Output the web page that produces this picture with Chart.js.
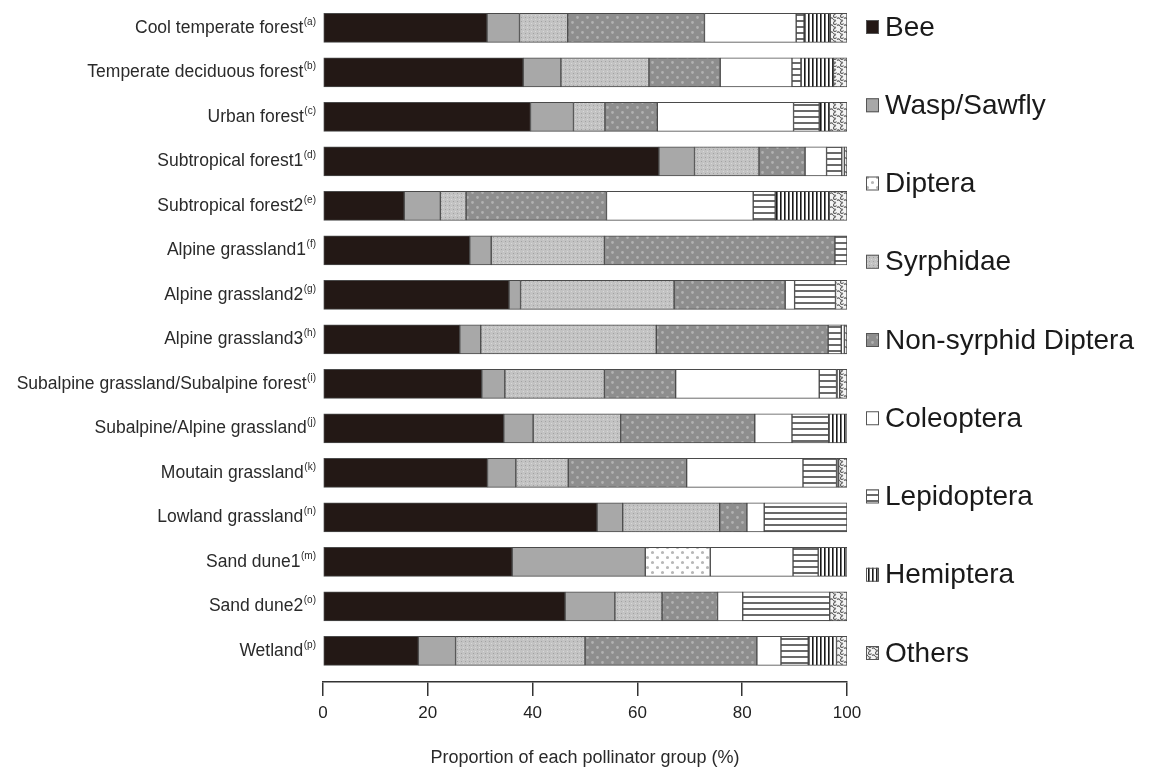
<!DOCTYPE html>
<html>
<head>
<meta charset="utf-8">
<script src="https://cdn.jsdelivr.net/npm/chart.js@4.4.1/dist/chart.umd.min.js"></script>
<style>
  html, body { margin: 0; padding: 0; background: #fff; }
  #wrap { width: 1152px; height: 769px; }
</style>
</head>
<body>
<div id="wrap"><canvas id="chart"></canvas></div>
<script>
// Habitats (top to bottom) and their reference letters
const habitats = [
    'Cool temperate forest', 'Temperate deciduous forest', 'Urban forest',
    'Subtropical forest1', 'Subtropical forest2', 'Alpine grassland1',
    'Alpine grassland2', 'Alpine grassland3', 'Subalpine grassland/Subalpine forest',
    'Subalpine/Alpine grassland', 'Moutain grassland', 'Lowland grassland',
    'Sand dune1', 'Sand dune2', 'Wetland'
];
const refs = ['a', 'b', 'c', 'd', 'e', 'f', 'g', 'h', 'i', 'j', 'k', 'n', 'm', 'o', 'p'];

// Proportion (%) of each pollinator group, one value per habitat
const bee        = [31.3, 38.2, 39.6, 64.1, 15.5, 28.0, 35.5, 26.1, 30.3, 34.5, 31.4, 52.3, 36.1, 46.2, 18.2];
const wasp       = [6.2, 7.2, 8.2, 6.8, 6.9, 4.1, 2.2, 4.0, 4.4, 5.6, 5.4, 4.9, 25.4, 9.5, 7.1];
const diptera    = [0, 0, 0, 0, 0, 0, 0, 0, 0, 0, 0, 0, 12.4, 0, 0];
const syrphidae  = [9.2, 16.8, 6.0, 12.3, 4.9, 21.6, 29.3, 33.5, 19.0, 16.7, 10.0, 18.5, 0, 9.0, 24.7];
const nonSyrphid = [26.1, 13.6, 10.0, 8.8, 26.8, 44.0, 21.2, 32.8, 13.6, 25.6, 22.6, 5.2, 0, 10.6, 32.8];
const coleoptera = [17.5, 13.7, 26.0, 4.1, 28.0, 0, 1.8, 0, 27.4, 7.1, 22.2, 3.3, 15.8, 4.8, 4.6];
const lepidoptera = [1.5, 1.7, 4.9, 2.9, 4.2, 2.3, 7.8, 2.5, 3.3, 7.0, 6.4, 15.8, 4.8, 16.6, 5.2];
const hemiptera  = [5.0, 6.2, 1.9, 0.5, 10.3, 0, 0, 0.6, 0.6, 3.5, 0.4, 0, 5.5, 0, 5.4];
const others     = [3.2, 2.6, 3.4, 0.5, 3.4, 0, 2.2, 0.5, 1.4, 0, 1.6, 0, 0, 3.3, 2.0];

const xTicks = [0, 20, 40, 60, 80, 100];

const FONT = '"Liberation Sans", Arial, Helvetica, sans-serif';
const canvas = document.getElementById('chart');
const mainCtx = canvas.getContext('2d');

// Build a repeating fill pattern from a small tile
function tile(w, h, paint) {
    const c = document.createElement('canvas');
    c.width = w;
    c.height = h;
    const g = c.getContext('2d');
    paint(g, w, h);
    return mainCtx.createPattern(c, 'repeat');
}

function dots(bg, fg, size, r) {
    return tile(size, size, (g, w, h) => {
        g.fillStyle = bg;
        g.fillRect(0, 0, w, h);
        g.fillStyle = fg;
        g.beginPath();
        g.arc(w * 0.25, h * 0.25, r, 0, Math.PI * 2);
        g.arc(w * 0.75, h * 0.75, r, 0, Math.PI * 2);
        g.fill();
    });
}

const fills = {
    bee: '#231815',
    wasp: '#a8a8a8',
    diptera: dots('#ffffff', '#b8b8b8', 10, 1.6),
    syrphidae: tile(4, 4, (g) => {
        g.fillStyle = '#c3c3c3';
        g.fillRect(0, 0, 4, 4);
        g.fillStyle = '#a2a2a2';
        g.fillRect(1, 1, 1, 1);
        g.fillStyle = '#d8d8d8';
        g.fillRect(3, 3, 1, 1);
    }),
    nonSyrphid: dots('#8e8e8e', '#b2b2b2', 10, 1.4),
    coleoptera: '#ffffff',
    lepidoptera: tile(6, 6, (g) => {
        g.fillStyle = '#ffffff';
        g.fillRect(0, 0, 6, 6);
        g.fillStyle = '#6a6a6a';
        g.fillRect(0, 2, 6, 2);
    }),
    hemiptera: tile(4, 4, (g) => {
        g.fillStyle = '#ffffff';
        g.fillRect(0, 0, 4, 4);
        g.fillStyle = '#1a1a1a';
        g.fillRect(0, 0, 1.6, 4);
    }),
    others: tile(7, 7, (g) => {
        g.fillStyle = '#f4f4f4';
        g.fillRect(0, 0, 7, 7);
        g.strokeStyle = '#5c5c5c';
        g.lineWidth = 1.1;
        g.beginPath();
        g.arc(2, 2, 1.5, 0.3, Math.PI * 1.6);
        g.stroke();
        g.beginPath();
        g.moveTo(4, 4.5);
        g.quadraticCurveTo(5.5, 3, 7, 5);
        g.moveTo(0, 5);
        g.quadraticCurveTo(1.5, 7, 3, 6);
        g.stroke();
    })
};

const series = [
    ['Bee', bee, fills.bee],
    ['Wasp/Sawfly', wasp, fills.wasp],
    ['Diptera', diptera, fills.diptera],
    ['Syrphidae', syrphidae, fills.syrphidae],
    ['Non-syrphid Diptera', nonSyrphid, fills.nonSyrphid],
    ['Coleoptera', coleoptera, fills.coleoptera],
    ['Lepidoptera', lepidoptera, fills.lepidoptera],
    ['Hemiptera', hemiptera, fills.hemiptera],
    ['Others', others, fills.others]
];

const datasets = series.map(([label, values, fill]) => ({
    label: label,
    data: values.map((v, i) => ({ x: v, y: i })),
    backgroundColor: fill,
    borderColor: '#4a4a4a',
    borderWidth: 1,
    borderSkipped: false,
    barThickness: 29
}));

// Habitat names with superscript reference letters, drawn left of the bars
const habitatLabels = {
    id: 'habitatLabels',
    afterDraw(chart) {
        const ctx = chart.ctx;
        const yScale = chart.scales.y;
        const right = chart.chartArea.left - 7;
        ctx.save();
        ctx.fillStyle = '#2a2a2a';
        ctx.textAlign = 'right';
        ctx.textBaseline = 'middle';
        habitats.forEach((name, i) => {
            const yc = yScale.getPixelForValue(i);
            const sup = '(' + refs[i] + ')';
            ctx.font = '10px ' + FONT;
            const supW = ctx.measureText(sup).width;
            ctx.fillText(sup, right, yc - 6);
            ctx.font = '17.5px ' + FONT;
            ctx.fillText(name, right - supW - 0.5, yc);
        });
        ctx.restore();
    }
};

// Tall single-column legend on the right
const sideLegend = {
    id: 'sideLegend',
    afterDraw(chart) {
        const ctx = chart.ctx;
        const x0 = chart.chartArea.right + 19;
        const top = 27;
        const step = 78.25;
        ctx.save();
        chart.data.datasets.forEach((ds, i) => {
            const yc = top + i * step;
            ctx.fillStyle = ds.backgroundColor;
            ctx.fillRect(x0, yc - 7, 13, 14);
            ctx.strokeStyle = '#555';
            ctx.lineWidth = 1;
            ctx.strokeRect(x0 + 0.5, yc - 6.5, 12, 13);
            ctx.fillStyle = '#1a1a1a';
            ctx.font = '28px ' + FONT;
            ctx.textAlign = 'left';
            ctx.textBaseline = 'middle';
            ctx.fillText(ds.label, x0 + 19, yc + 1);
        });
        ctx.restore();
    }
};

new Chart(mainCtx, {
    type: 'bar',
    data: { datasets: datasets },
    options: {
        indexAxis: 'y',
        responsive: true,
        maintainAspectRatio: false,
        animation: false,
        layout: { padding: { left: 323, right: 305, top: 5.7, bottom: 0 } },
        plugins: {
            legend: { display: false },
            tooltip: { enabled: false }
        },
        scales: {
            x: {
                type: 'linear',
                stacked: true,
                min: 0,
                max: 100,
                afterBuildTicks: (scale) => {
                    scale.ticks = xTicks.map(v => ({ value: v }));
                },
                grid: {
                    display: true,
                    drawOnChartArea: false,
                    drawTicks: true,
                    tickLength: 14,
                    color: '#333',
                    lineWidth: 1.5
                },
                border: { display: true, color: '#333', width: 1.5 },
                ticks: {
                    padding: 7,
                    color: '#222',
                    font: { family: FONT, size: 17 }
                },
                title: {
                    display: true,
                    text: 'Proportion of each pollinator group (%)',
                    color: '#2a2a2a',
                    font: { family: FONT, size: 18 },
                    padding: { top: 17, bottom: 0 }
                }
            },
            y: {
                type: 'linear',
                stacked: true,
                reverse: true,
                offset: false,
                min: -0.5,
                max: 14.7,
                display: false
            }
        }
    },
    plugins: [habitatLabels, sideLegend]
});
</script>
</body>
</html>
